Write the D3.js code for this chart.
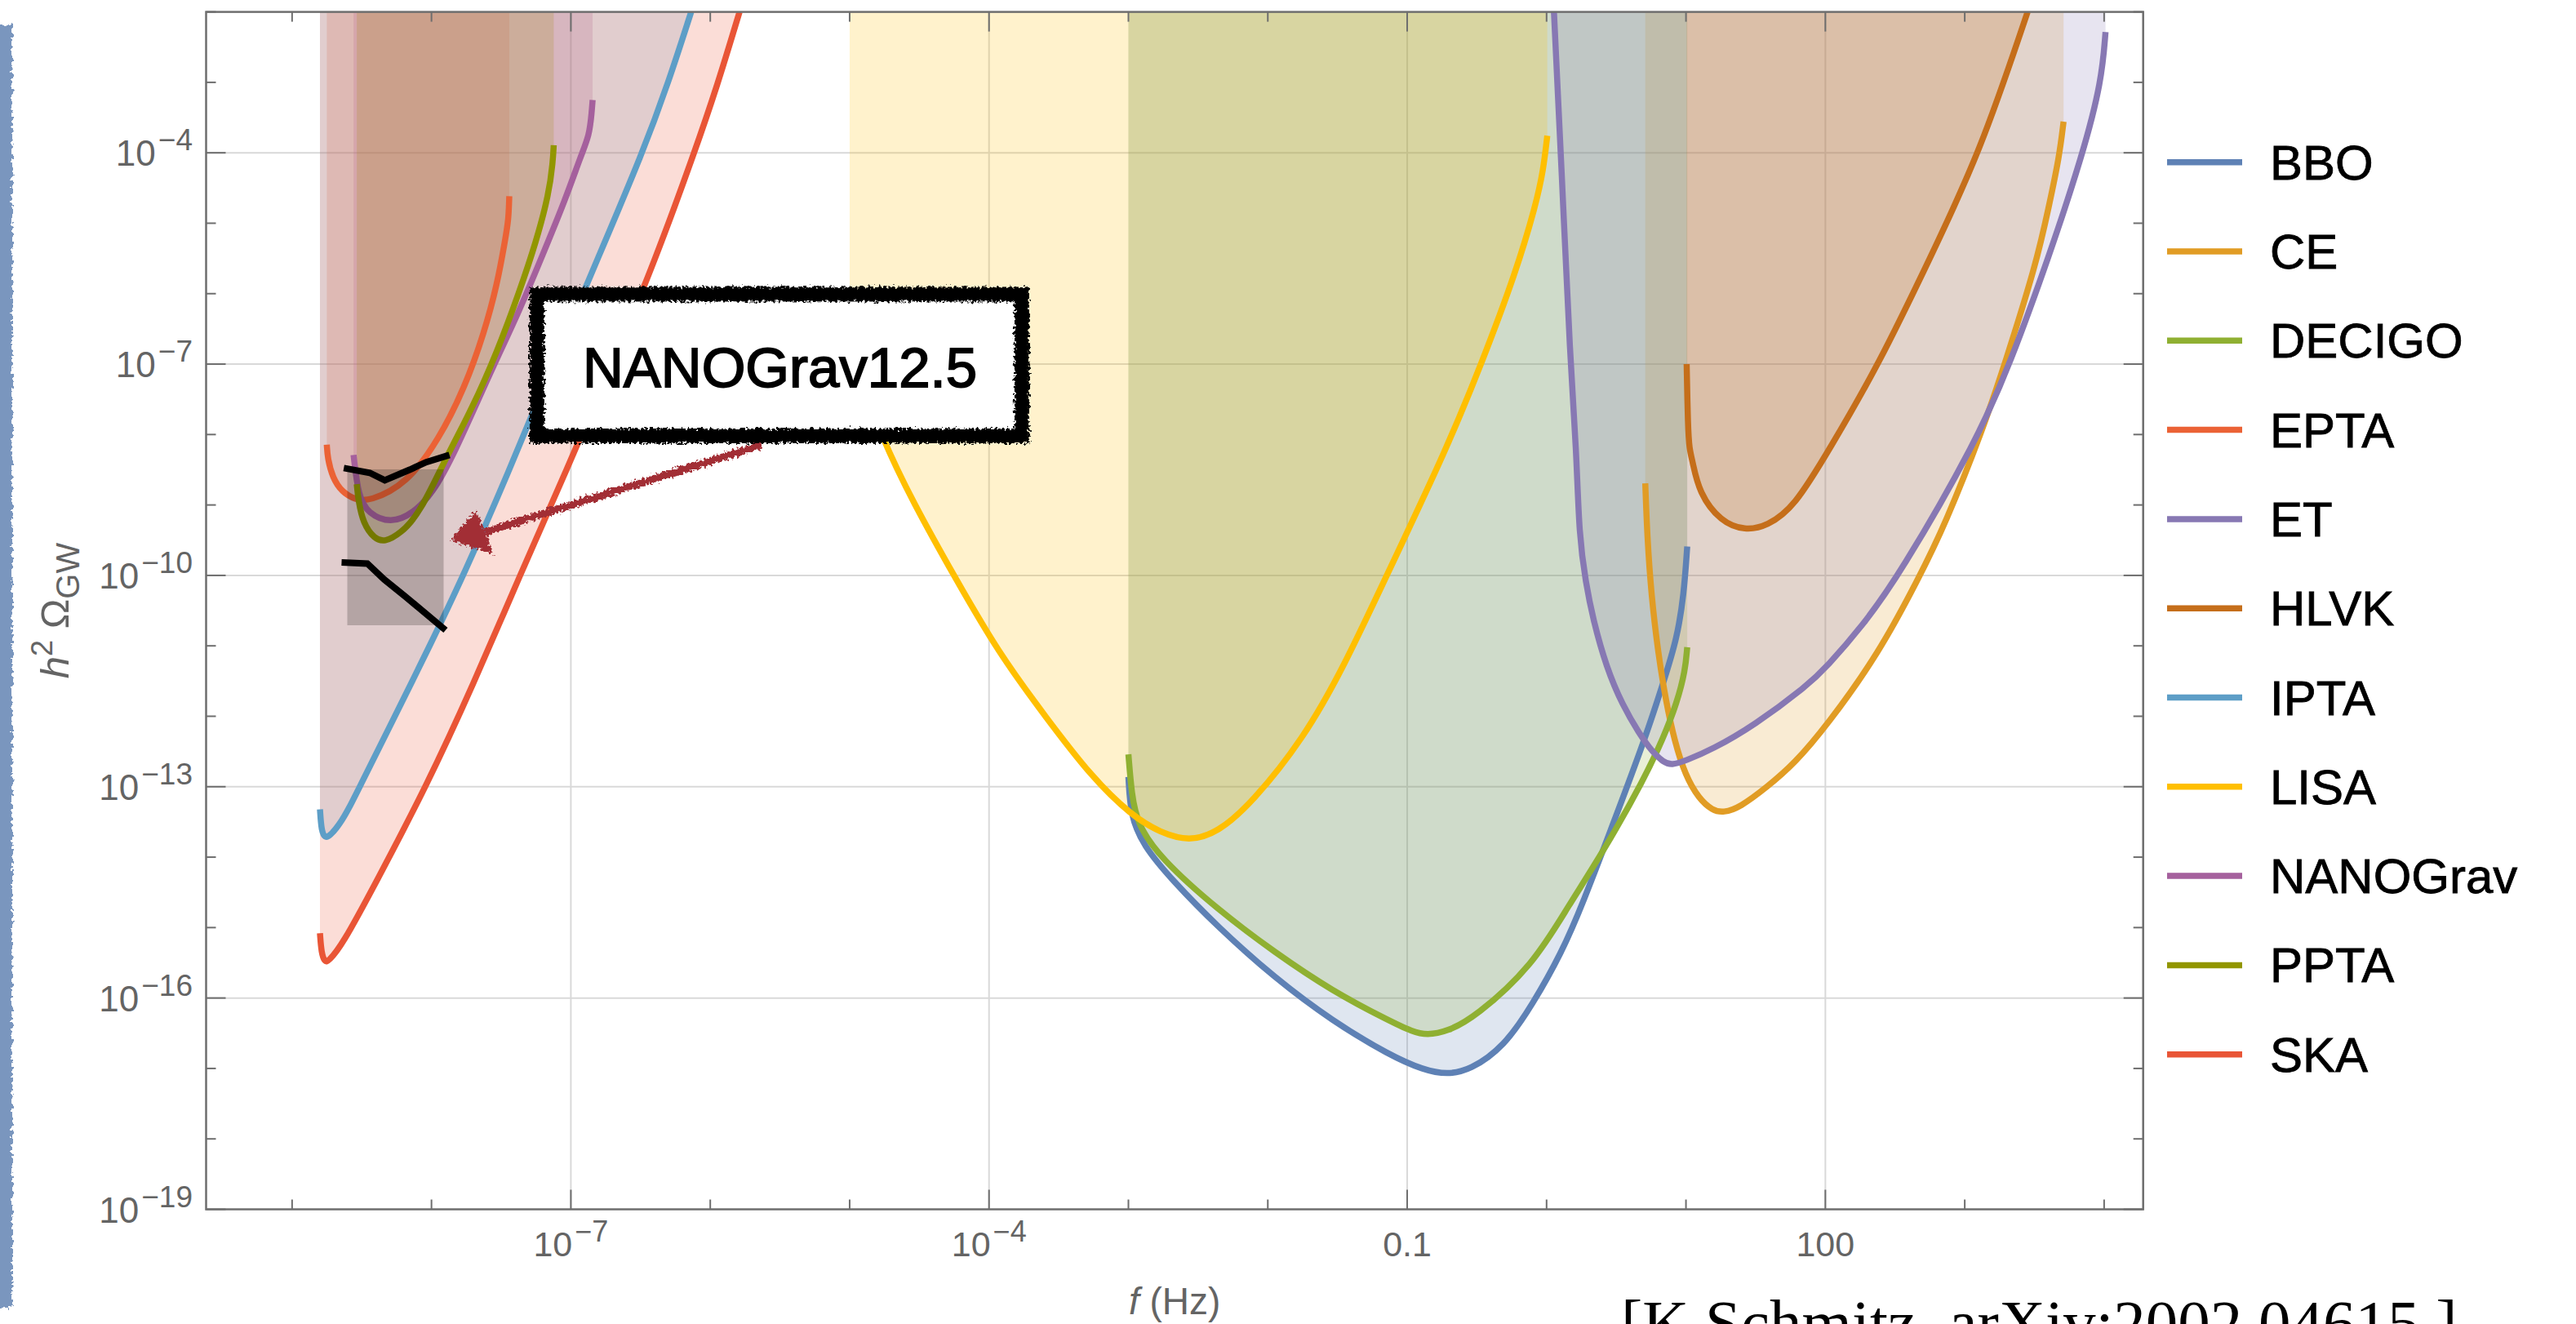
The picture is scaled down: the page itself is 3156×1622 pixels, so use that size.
<!DOCTYPE html>
<html><head><meta charset="utf-8">
<script src="https://cdn.jsdelivr.net/npm/d3@7"></script>
<style>body{margin:0;background:#fff}svg{display:block}</style>
</head><body>
<svg id="chart" width="3156" height="1622"></svg>
<script>
// ---- data: each point is [log10 f (Hz), log10 h^2 Omega_GW] ----
const BBO = [[-3.0,-12.86],[-2.985,-13.41],[-2.894,-13.835],[-2.689,-14.321],[-2.36,-14.99],[-1.948,-15.719],[-1.537,-16.326],[-1.126,-16.813],[-0.879,-17.025],[-0.715,-17.086],[-0.55,-17.025],[-0.304,-16.691],[-0.098,-16.084],[0.108,-15.355],[0.253,-14.694],[0.506,-13.378],[0.702,-12.343],[0.839,-11.515],[0.936,-10.894],[0.985,-10.274],[1.009,-9.59]];
const CE = [[0.708,-8.692],[0.722,-9.446],[0.751,-10.274],[0.8,-11.102],[0.858,-11.805],[0.917,-12.343],[0.995,-12.84],[1.093,-13.171],[1.19,-13.337],[1.268,-13.37],[1.386,-13.295],[1.581,-13.006],[1.777,-12.674],[2.01,-12.135],[2.385,-11.102],[2.667,-10.05],[2.855,-9.3],[3.137,-7.892],[3.287,-7.0],[3.512,-5.589],[3.606,-4.739],[3.677,-4.073],[3.709,-3.557]];
const DECIGO = [[-3.0,-12.541],[-2.977,-13.106],[-2.936,-13.532],[-2.771,-14.017],[-2.36,-14.746],[-1.948,-15.355],[-1.537,-15.902],[-1.126,-16.326],[-0.961,-16.479],[-0.859,-16.527],[-0.715,-16.479],[-0.509,-16.266],[-0.098,-15.537],[0.155,-14.694],[0.409,-13.917],[0.702,-12.882],[0.839,-12.302],[0.936,-11.805],[0.995,-11.35],[1.009,-11.019]];
const EPTA = [[-8.751,-8.145],[-8.745,-8.338],[-8.71,-8.612],[-8.641,-8.819],[-8.547,-8.923],[-8.45,-8.952],[-8.177,-8.704],[-7.945,-8.063],[-7.76,-7.329],[-7.621,-6.551],[-7.528,-5.864],[-7.47,-5.221],[-7.447,-4.947],[-7.442,-4.617]];
const ET = [[0.0,-0.1],[0.054,-1.981],[0.108,-4.255],[0.17,-6.983],[0.214,-8.204],[0.233,-9.446],[0.282,-10.109],[0.331,-10.605],[0.429,-11.309],[0.546,-11.847],[0.663,-12.24],[0.76,-12.509],[0.839,-12.653],[0.897,-12.695],[0.995,-12.633],[1.19,-12.468],[1.484,-12.137],[1.874,-11.56],[2.009,-11.3],[2.265,-10.72],[2.53,-10.0],[3.09,-8.073],[3.324,-7.0],[3.606,-5.467],[3.85,-4.0],[3.982,-2.983],[4.01,-2.285]];
const HLVK = [[1.005,-7.0],[1.014,-7.892],[1.024,-8.204],[1.047,-8.377],[1.093,-8.826],[1.249,-9.239],[1.425,-9.363],[1.581,-9.301],[1.777,-9.032],[2.031,-8.204],[2.385,-7.0],[2.75,-5.5],[3.109,-4.0],[3.451,-2.0]];
const IPTA = [[-8.8,-13.32],[-8.79,-13.62],[-8.765,-13.73],[-8.73,-13.7],[-8.66,-13.54],[-8.59,-13.3],[-8.515,-13.0],[-8.3,-12.15],[-8.0,-10.95],[-7.77,-10.0],[-7.45,-8.55],[-7.129,-7.0],[-6.8,-5.47],[-6.485,-4.0],[-6.3,-3.0],[-6.137,-2.0]];
const LISA = [[-5.0,-6.814],[-4.765,-8.073],[-4.539,-8.983],[-4.253,-10.001],[-3.931,-11.102],[-3.593,-12.012],[-3.264,-12.863],[-2.977,-13.41],[-2.771,-13.653],[-2.565,-13.775],[-2.36,-13.653],[-2.113,-13.228],[-1.743,-12.316],[-1.455,-11.3],[-1.147,-10.001],[-0.715,-8.195],[-0.468,-6.999],[-0.222,-5.709],[-0.077,-4.739],[-0.024,-4.255],[0.005,-3.758]];
const NANOGrav = [[-8.559,-8.291],[-8.525,-8.88],[-8.455,-9.12],[-8.293,-9.265],[-8.131,-9.12],[-7.991,-8.831],[-7.84,-8.291],[-7.574,-7.1],[-7.366,-6.23],[-7.203,-5.451],[-7.041,-4.672],[-6.926,-4.03],[-6.868,-3.754],[-6.851,-3.434],[-6.844,-3.251]];
const PPTA = [[-8.536,-8.704],[-8.525,-8.928],[-8.49,-9.265],[-8.409,-9.48],[-8.339,-9.529],[-8.223,-9.408],[-8.084,-9.12],[-7.887,-8.291],[-7.713,-7.65],[-7.528,-6.825],[-7.366,-5.955],[-7.25,-5.268],[-7.157,-4.581],[-7.129,-4.122],[-7.123,-3.892]];
const SKA = [[-8.8,-15.08],[-8.79,-15.36],[-8.765,-15.49],[-8.74,-15.48],[-8.641,-15.25],[-8.409,-14.4],[-8.038,-13.0],[-7.7,-11.55],[-7.366,-10.0],[-7.03,-8.5],[-6.703,-7.0],[-6.4,-5.55],[-6.114,-4.0],[-5.95,-3.05],[-5.79,-2.0]];

const names  = ["BBO","CE","DECIGO","EPTA","ET","HLVK","IPTA","LISA","NANOGrav","PPTA","SKA"];
const series = [BBO, CE, DECIGO, EPTA, ET, HLVK, IPTA, LISA, NANOGrav, PPTA, SKA];
const colors = ["#5E81B5","#E19C24","#8FB032","#EB6235","#8778B3","#C56E1A","#5D9EC7","#FFBF00","#A5609D","#929600","#E95536"];

// NANOGrav 12.5-yr signal region (log10 values)
const ng125Box   = [[-8.604,-8.494],[-7.913,-10.708]];
const ng125Upper = [[-8.629,-8.476],[-8.443,-8.544],[-8.335,-8.649],[-8.154,-8.498],[-8.038,-8.392],[-7.871,-8.291]];
const ng125Lower = [[-8.645,-9.816],[-8.46,-9.832],[-8.339,-10.058],[-8.189,-10.297],[-7.899,-10.778]];
// annotation (log10 values)
const labelBox   = [[-7.243,-6.008],[-3.765,-8.019]];
const labelText  = "NANOGrav12.5";
const labelPos   = [-5.50,-7.324];
const arrowTail  = [-5.632,-8.147];
const arrowBase  = [-7.618,-9.387];
const arrowHead  = [[-7.864,-9.503],[-7.682,-9.074],[-7.553,-9.70]];

const xTicks = [{e:-7,t:"10",s:"\u22127"},{e:-4,t:"10",s:"\u22124"},{e:-1,t:"0.1",s:""},{e:2,t:"100",s:""}];
const yTicks = [-4,-7,-10,-13,-16,-19];
const xDomainLog = [-9.617, 4.28];
const yDomainLog = [-19, -2];
const citation = "[K.Schmitz, arXiv:2002.04615 ]";

// ---- layout ----
const L = 252.5, R = 2625.7, T = 14.6, B = 1481.5;
const svg = d3.select("#chart");
const x = d3.scaleLog().domain(xDomainLog.map(v => 10 ** v)).range([L, R]);
const y = d3.scaleLog().domain(yDomainLog.map(v => 10 ** v)).range([B, T]);
const px = d => x(10 ** d[0]), py = d => y(10 ** d[1]);

const defs = svg.append("defs");
defs.append("clipPath").attr("id","clip").append("rect").attr("x",L).attr("y",T).attr("width",R-L).attr("height",B-T);
const f1 = defs.append("filter").attr("id","rough").attr("x","-10%").attr("y","-30%").attr("width","120%").attr("height","160%");
f1.append("feTurbulence").attr("type","fractalNoise").attr("baseFrequency","0.3").attr("numOctaves",2).attr("seed",4).attr("result","n");
f1.append("feDisplacementMap").attr("in","SourceGraphic").attr("in2","n").attr("scale",10).attr("xChannelSelector","R").attr("yChannelSelector","G");
const f2 = defs.append("filter").attr("id","rough2").attr("x","-50%").attr("y","-2%").attr("width","300%").attr("height","104%");
f2.append("feTurbulence").attr("type","fractalNoise").attr("baseFrequency","0.22").attr("numOctaves",2).attr("seed",7).attr("result","n");
f2.append("feDisplacementMap").attr("in","SourceGraphic").attr("in2","n").attr("scale",10).attr("xChannelSelector","R").attr("yChannelSelector","G");

// blue strip at the far left
svg.append("rect").attr("x",-4).attr("y",31).attr("width",19).attr("height",1571).attr("fill","#7a96be").attr("filter","url(#rough2)");

// gridlines
const grid = svg.append("g").attr("stroke","#d9d9d9").attr("stroke-width",2);
xTicks.forEach(t => grid.append("line").attr("x1",x(10**t.e)).attr("x2",x(10**t.e)).attr("y1",T).attr("y2",B));
yTicks.filter(e => e > -19).forEach(e => grid.append("line").attr("x1",L).attr("x2",R).attr("y1",y(10**e)).attr("y2",y(10**e)));

// fills and curves
const plot = svg.append("g").attr("clip-path","url(#clip)");
const area = d3.area().x(px).y0(T - 5).y1(py).curve(d3.curveBasis);
const line = d3.line().x(px).y(py).curve(d3.curveBasis);
series.forEach((s,i) => plot.append("path").attr("d",area(s)).attr("fill",colors[i]).attr("fill-opacity",0.2));
series.forEach((s,i) => plot.append("path").attr("d",line(s)).attr("fill","none").attr("stroke",colors[i]).attr("stroke-width",7.5).attr("stroke-linejoin","round"));

// NANOGrav 12.5 region
plot.append("rect")
  .attr("x",px(ng125Box[0])).attr("y",py(ng125Box[0]))
  .attr("width",px(ng125Box[1])-px(ng125Box[0])).attr("height",py(ng125Box[1])-py(ng125Box[0]))
  .attr("fill","#000").attr("fill-opacity",0.2);
const lin = d3.line().x(px).y(py);
[ng125Upper, ng125Lower].forEach(s => plot.append("path").attr("d",lin(s)).attr("fill","none").attr("stroke","#000").attr("stroke-width",8));

// frame and ticks
const axc = "#6e6e6e";
svg.append("rect").attr("x",L).attr("y",T).attr("width",R-L).attr("height",B-T).attr("fill","none").attr("stroke",axc).attr("stroke-width",2.5);
const tk = svg.append("g").attr("stroke",axc).attr("stroke-width",2);
for (let e = Math.ceil(xDomainLog[0]); e <= Math.floor(xDomainLog[1]); e++) {
  const len = xTicks.some(t => t.e === e) ? 24 : 12, X = x(10 ** e);
  tk.append("line").attr("x1",X).attr("x2",X).attr("y1",B).attr("y2",B-len);
  tk.append("line").attr("x1",X).attr("x2",X).attr("y1",T).attr("y2",T+len);
}
for (let e = yDomainLog[0]; e <= yDomainLog[1]; e++) {
  const len = yTicks.includes(e) ? 24 : 12, Y = y(10 ** e);
  tk.append("line").attr("x1",L).attr("x2",L+len).attr("y1",Y).attr("y2",Y);
  tk.append("line").attr("x1",R).attr("x2",R-len).attr("y1",Y).attr("y2",Y);
}
const lab = svg.append("g").attr("font-family","Liberation Sans, Arial, sans-serif").attr("fill","#646464");
xTicks.forEach(t => {
  const tx = lab.append("text").attr("x",x(10**t.e)).attr("y",1539).attr("text-anchor","middle").attr("font-size",43);
  tx.append("tspan").text(t.t);
  if (t.s) tx.append("tspan").attr("dx",3).attr("dy",-18).attr("font-size",36).text(t.s);
});
yTicks.forEach(e => {
  const tx = lab.append("text").attr("x",236).attr("y",y(10**e)+16).attr("text-anchor","end").attr("font-size",44);
  tx.append("tspan").text("10");
  tx.append("tspan").attr("dx",3).attr("dy",-19).attr("font-size",37).text("\u2212" + (-e));
});
// axis titles
const xt = lab.append("text").attr("x",(L+R)/2).attr("y",1610).attr("text-anchor","middle").attr("font-size",46);
xt.append("tspan").attr("font-style","italic").text("f");
xt.append("tspan").text(" (Hz)");
const yt = lab.append("text").attr("transform",`translate(84,${(T+B)/2}) rotate(-90)`).attr("text-anchor","middle").attr("font-size",49);
yt.append("tspan").attr("font-style","italic").text("h");
yt.append("tspan").attr("dy",-20).attr("font-size",36).text("2");
yt.append("tspan").attr("dy",20).text(" \u03A9");
yt.append("tspan").attr("dy",13).attr("font-size",40).text("GW");

// legend
const lg = svg.append("g").attr("font-family","Liberation Sans, Arial, sans-serif");
names.forEach((n,i) => {
  const cy = 198.7 + i * 109.3;
  lg.append("line").attr("x1",2655).attr("x2",2747).attr("y1",cy).attr("y2",cy).attr("stroke",colors[i]).attr("stroke-width",7.5);
  lg.append("text").attr("x",2781).attr("y",cy+21).attr("font-size",60).attr("fill","#000")
    .attr("stroke","#000").attr("stroke-width",0.8).text(n);
});

// annotation arrow
const ann = svg.append("g").attr("filter","url(#rough)");
ann.append("line").attr("x1",px(arrowTail)).attr("y1",py(arrowTail)).attr("x2",px(arrowBase)).attr("y2",py(arrowBase))
  .attr("stroke","#a22e36").attr("stroke-width",9);
ann.append("path").attr("d","M" + arrowHead.map(d => px(d)+","+py(d)).join("L") + "Z").attr("fill","#a22e36");
// annotation box
svg.append("rect").attr("x",px(labelBox[0])).attr("y",py(labelBox[0]))
  .attr("width",px(labelBox[1])-px(labelBox[0])).attr("height",py(labelBox[1])-py(labelBox[0]))
  .attr("fill","#fff").attr("stroke","#000").attr("stroke-width",18).attr("filter","url(#rough)");
svg.append("text").attr("x",px(labelPos)).attr("y",py(labelPos)).attr("text-anchor","middle")
  .attr("font-family","Liberation Sans, Arial, sans-serif").attr("font-size",69).attr("fill","#000")
  .attr("stroke","#000").attr("stroke-width",1.8).text(labelText);

// citation
svg.append("text").attr("x",1986).attr("y",1647).attr("font-family","Liberation Serif, Times New Roman, serif")
  .attr("font-size",79).attr("fill","#000").text(citation);
</script>
</body></html>
